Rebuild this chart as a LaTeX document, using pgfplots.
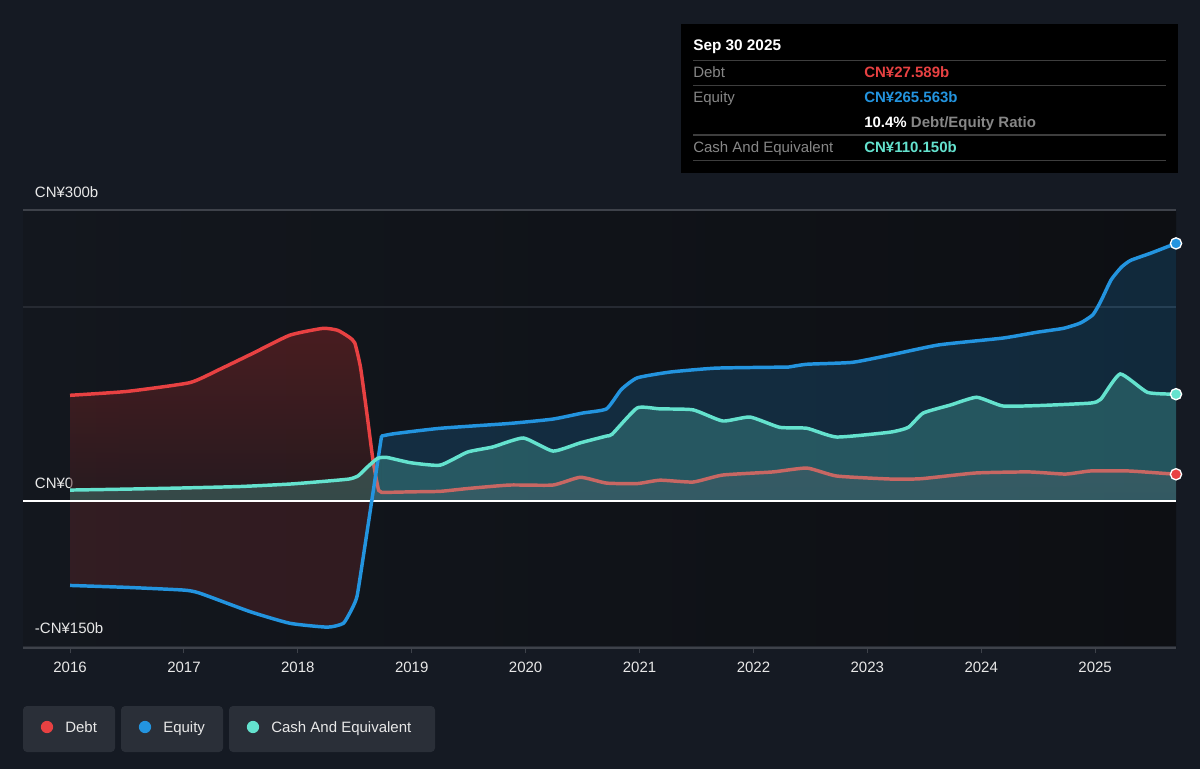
\documentclass[border=0pt]{standalone}
\usepackage{fontspec}
\setmainfont{Liberation Sans}
\usepackage{pgfplots}
\usepackage{pgfplotstable}
\pgfplotsset{compat=1.18}
\usepgfplotslibrary{fillbetween}
\definecolor{bg}{RGB}{21,26,35}
\definecolor{plotbg}{RGB}{19,23,30}
\definecolor{plotbgR}{RGB}{13,15,19}
\definecolor{debtc}{RGB}{232,65,66}
\definecolor{debtlow}{RGB}{107,56,60}
\definecolor{eqc}{RGB}{35,148,223}
\definecolor{cashc}{RGB}{100,226,206}
\definecolor{gridc}{RGB}{38,42,50}
\definecolor{gridtop}{RGB}{62,66,74}
\definecolor{legbox}{RGB}{42,47,56}
\definecolor{lbl}{RGB}{135,135,135}
\definecolor{sepc}{RGB}{62,62,62}
\definecolor{txt}{RGB}{232,232,232}
\pagecolor{bg}

\pgfplotstableread{
x y
2016.00 109
2016.50 113
2017.05 122
2017.30 135
2017.60 152
2017.93 171
2018.22 178
2018.35 176
2018.45 169
2018.50 163
2018.55 138
2018.61 87
2018.66 42
2018.71 11
2018.77 9
2019.00 9.5
2019.25 10
2019.50 13
2019.86 16.5
2020.24 16.5
2020.48 24.5
2020.71 18.5
2020.98 18
2021.18 21.5
2021.47 19.6
2021.73 26.8
2022.17 30
2022.47 34
2022.73 25.8
2023.20 22.7
2023.47 23
2023.95 28.9
2024.42 30
2024.74 27.8
2024.96 31
2025.29 31
2025.49 29.5
2025.71 27.6
}\debtdata

% equity, before the jump
\pgfplotstableread{
x y
2016.00 -87
2016.50 -89
2017.00 -91.8
2017.14 -95
2017.58 -114
2017.93 -126
2018.26 -130
2018.40 -126
2018.48 -110
2018.52 -98
2018.57 -61
2018.735 67
}\eqAdata

% equity, after the jump
\pgfplotstableread{
x y
2018.735 67
2018.85 69.5
2019.25 75
2019.86 80
2020.24 84.5
2020.50 90.7
2020.71 95
2020.84 115
2020.98 127
2021.27 133
2021.67 137
2022.23 138
2022.30 138
2022.47 141
2022.87 143
2023.22 151
2023.63 161
2024.19 168
2024.49 174
2024.72 178
2024.87 183.5
2024.98 192
2025.05 206
2025.14 228
2025.23 241
2025.31 248
2025.49 255.6
2025.71 265.6
}\eqBdata

\pgfplotstableread{
x y
2016.00 11.3
2016.50 12.3
2017.00 13.5
2017.50 15
2017.93 17.5
2018.20 20
2018.45 22.7
2018.53 26
2018.61 35
2018.70 44
2018.78 45
2018.99 39.5
2019.25 37
2019.49 50.5
2019.71 55.7
2019.98 65
2020.24 51.5
2020.48 60
2020.71 67
2020.76 69
2020.98 96
2021.18 95
2021.47 94
2021.73 82.5
2021.97 86.6
2022.23 76
2022.47 75
2022.73 66
2023.20 71
2023.36 76
2023.49 90.7
2023.73 99
2023.96 107
2024.19 98
2024.52 98.5
2024.96 101
2025.05 105
2025.22 131
2025.46 112
2025.71 110.15
}\cashdata

\begin{document}
\begin{tikzpicture}
\begin{scope}[x=0.75pt,y=-0.75pt]
\path (0,0) rectangle (1200,769);
\end{scope}
\begin{axis}[
  at={(17.25pt,-486pt)}, anchor=south west,
  scale only axis, width=864.75pt, height=328.5pt,
  xmin=2015.587, xmax=2025.71, ymin=-151.5, ymax=300,
  clip=false,
  axis background/.style={left color=plotbg, right color=plotbgR},
  separate axis lines,
  axis x line*=bottom, axis y line*=left,
  x axis line style={draw=gridtop, line width=1.3pt},
  y axis line style={draw=none},
  xtick={2016,2017,2018,2019,2020,2021,2022,2023,2024,2025},
  xticklabels={2016,2017,2018,2019,2020,2021,2022,2023,2024,2025},
  xtick pos=bottom, tick align=outside,
  major tick length=4pt,
  xtick style={draw=gridtop, line width=0.8pt},
  ytick={-150,0,200,300},
  yticklabels={-CN¥150b,CN¥0,,CN¥300b},
  ytick style={draw=none},
  ymajorgrids, grid style={draw=gridc, line width=1pt},
  tick label style={font=\fontsize{11.25}{13}\selectfont, text=txt},
  xticklabel style={anchor=north, inner sep=0pt, yshift=-6pt},
  yticklabel style={anchor=base west, inner sep=0pt, xshift=12.75pt, yshift=9.5pt},
]
\draw[gridtop, line width=1pt] (axis cs:2015.587,300) -- (axis cs:2025.71,300);

\addplot[name path=zerop, draw=none] coordinates {(2016,0) (2025.71,0)};
\addplot[name path=zeroA, draw=none] coordinates {(2016,0) (2018.735,0)};
\addplot[name path=zeroB, draw=none] coordinates {(2018.735,0) (2025.71,0)};
\addplot[name path=debtp, draw=none, smooth, tension=0.3] table {\debtdata};
\addplot[name path=eqAp, draw=none, smooth, tension=0.3] table {\eqAdata};
\addplot[name path=eqBp, draw=none, smooth, tension=0.3] table {\eqBdata};
\addplot[name path=cashp, draw=none, smooth, tension=0.3] table {\cashdata};

\addplot[top color=debtc, bottom color=debtlow, fill opacity=0.28, draw=none] fill between[of=debtp and zerop, on layer=main];
\addplot[fill=debtc, fill opacity=0.15, draw=none] fill between[of=eqAp and zeroA, soft clip={domain=2015:2018.625}, on layer=main];
\addplot[fill=eqc, fill opacity=0.2, draw=none] fill between[of=eqAp and zeroA, soft clip={domain=2018.625:2018.74}, on layer=main];
\addplot[fill=eqc, fill opacity=0.2, draw=none] fill between[of=eqBp and zeroB, on layer=main];
\addplot[debtc, line width=2.6pt, smooth, tension=0.3] table {\debtdata};
\addplot[fill=cashc, fill opacity=0.24, draw=none] fill between[of=cashp and zerop, on layer=main];
\draw[white, line width=1.1pt] (axis cs:2015.587,0) -- (axis cs:2025.71,0);
\addplot[eqc, line width=2.6pt, smooth, tension=0.3, line join=round] table {\eqAdata};
\addplot[eqc, line width=2.6pt, smooth, tension=0.3, line join=round, line cap=round] table {\eqBdata};
\addplot[cashc, line width=2.6pt, smooth, tension=0.3] table {\cashdata};

\addplot[only marks, mark=*, mark size=4.2pt, mark options={fill=debtc, draw=white, line width=1pt}] coordinates {(2025.71,27.589)};
\addplot[only marks, mark=*, mark size=4.2pt, mark options={fill=eqc, draw=white, line width=1pt}] coordinates {(2025.71,265.563)};
\addplot[only marks, mark=*, mark size=4.2pt, mark options={fill=cashc, draw=white, line width=1pt}] coordinates {(2025.71,110.15)};
\end{axis}

\begin{scope}[x=0.75pt,y=-0.75pt]
% tooltip
\fill[black] (681,24) rectangle (1178,173);
\node[anchor=base west, inner sep=0pt, text=white, font=\fontsize{11.5}{13}\selectfont\bfseries] at (693,50.5) {Sep 30 2025};
\foreach \yy in {60.5,85.5,135,160.5} \draw[sepc, line width=0.9pt] (693,\yy) -- (1166,\yy);
\begin{scope}[every node/.style={anchor=base west, inner sep=0pt, font=\fontsize{11.25}{13}\selectfont}]
\node[text=lbl] at (693,77.5) {Debt};
\node[text=debtc, font=\fontsize{11.25}{13}\selectfont\bfseries] at (864,77.5) {CN¥27.589b};
\node[text=lbl] at (693,102.5) {Equity};
\node[text=eqc, font=\fontsize{11.25}{13}\selectfont\bfseries] at (864,102.5) {CN¥265.563b};
\node[text=lbl, font=\fontsize{11.25}{13}\selectfont\bfseries] at (864,127) {\textcolor{white}{10.4\%} Debt/Equity Ratio};
\node[text=lbl] at (693,152) {Cash And Equivalent};
\node[text=cashc, font=\fontsize{11.25}{13}\selectfont\bfseries] at (864,152) {CN¥110.150b};
\end{scope}
% legend
\fill[legbox, rounded corners=3pt] (23,706) rectangle (115,752);
\fill[legbox, rounded corners=3pt] (121,706) rectangle (223,752);
\fill[legbox, rounded corners=3pt] (229,706) rectangle (435,752);
\fill[debtc] (47,727) circle[radius=4.6pt];
\fill[eqc] (145,727) circle[radius=4.6pt];
\fill[cashc] (253,727) circle[radius=4.6pt];
\begin{scope}[every node/.style={anchor=base west, inner sep=0pt, text=txt, font=\fontsize{11.25}{13}\selectfont}]
\node at (65,732.5) {Debt};
\node at (163,732.5) {Equity};
\node at (271,732.5) {Cash And Equivalent};
\end{scope}
\end{scope}
\end{tikzpicture}
\end{document}
